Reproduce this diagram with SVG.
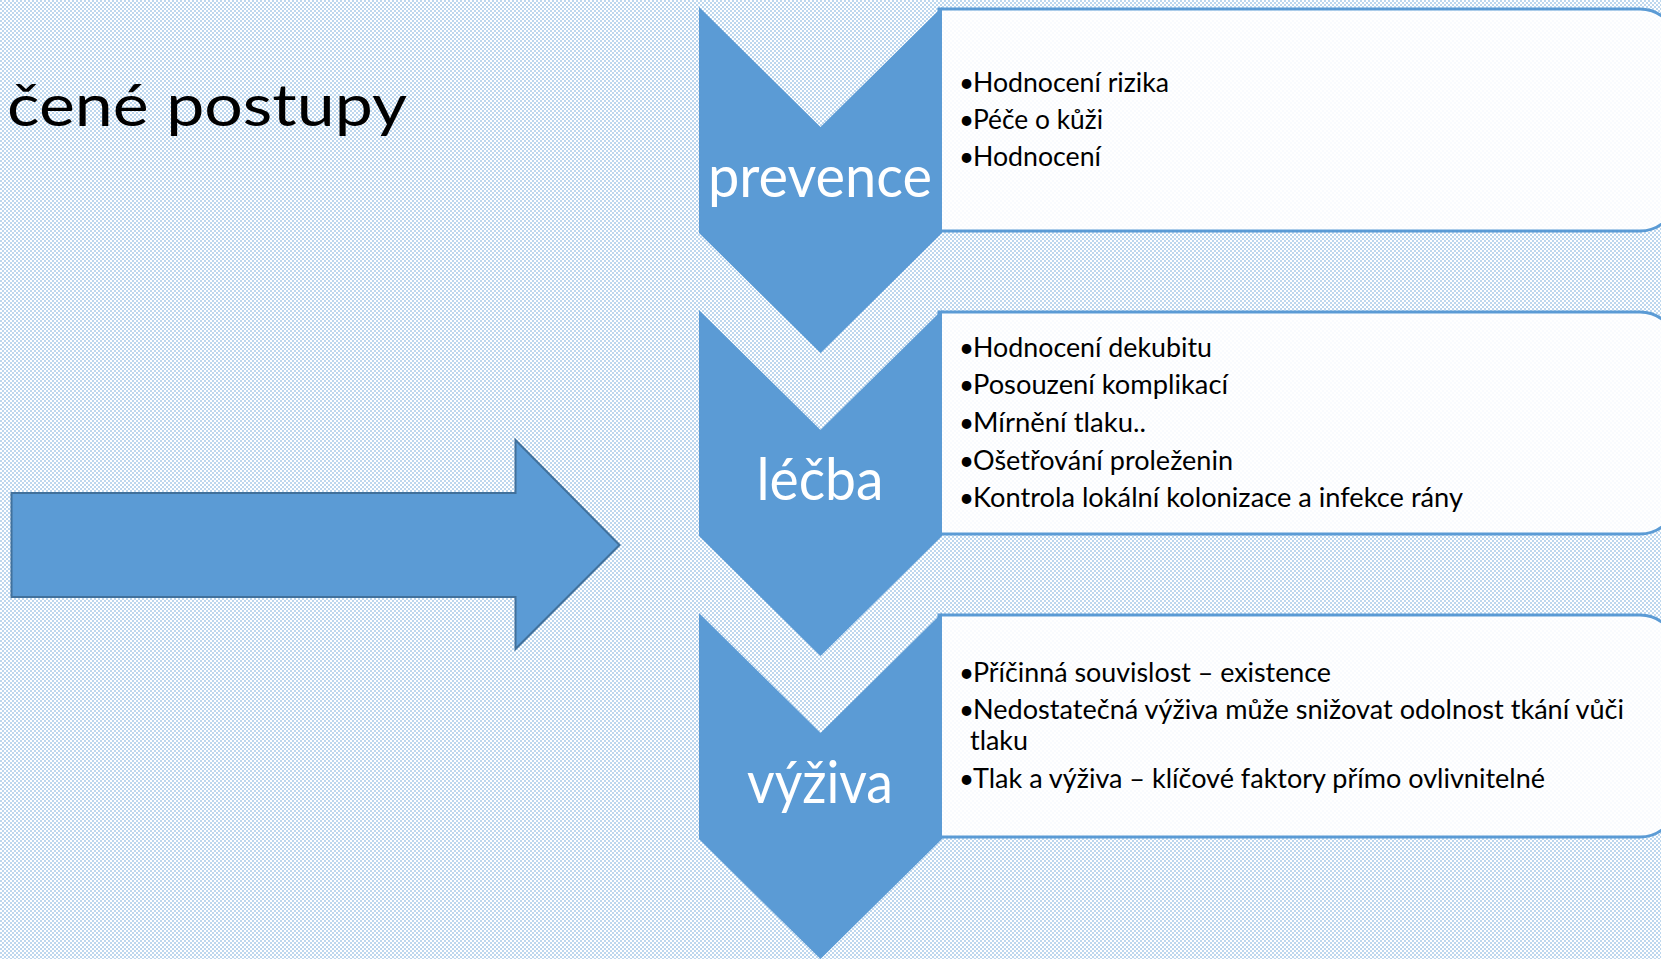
<svg xmlns="http://www.w3.org/2000/svg" width="1661" height="959" viewBox="0 0 1661 959">
  <defs>
    <pattern id="bg" width="4" height="4" patternUnits="userSpaceOnUse">
      <rect width="4" height="4" fill="#ffffff"/>
      <rect width="2" height="2" fill="#bdd7ee"/>
      <rect x="2" y="2" width="2" height="2" fill="#bdd7ee"/>
    </pattern>
  </defs>
  <style>
    .box { fill: #ffffff; fill-opacity: 0.9; stroke: #5b9bd5; stroke-width: 3; }
    .chev { fill: #5b9bd5; }
    .lbl { font-family: Lato, "Open Sans", sans-serif; font-size: 59px; fill: #ffffff; text-anchor: middle; }
    .item { font-family: Lato, "Open Sans", sans-serif; font-size: 26px; fill: #000000; }
    .title { font-family: Lato, "Open Sans", sans-serif; font-size: 59px; fill: #000000; }
  </style>
  <rect width="1661" height="959" fill="url(#bg)"/>

  <text class="title" x="7" y="126" textLength="400" lengthAdjust="spacingAndGlyphs">čené postupy</text>

  <g id="connectors">
    <polygon points="11.5,493 515.5,493 515.5,440 619.5,545 515.5,649 515.5,597 11.5,597" fill="#5b9bd5" stroke="#41719c" stroke-width="2" stroke-linejoin="miter"/>
  </g>

  <g id="prevence">
    <path class="box" d="M939,9 H1640 A37,37 0 0 1 1677,46 V194 A37,37 0 0 1 1640,231 H939 Z"/>
    <path class="chev" d="M699,7 L820.5,127 L942,7 L942,233 L820.5,353 L699,233 Z"/>
    <text class="lbl" x="820" y="197" textLength="224" lengthAdjust="spacingAndGlyphs">prevence</text>
    <text class="item" x="959" y="92">•</text><text class="item" x="973" y="92" textLength="196" lengthAdjust="spacingAndGlyphs">Hodnocení rizika</text>
    <text class="item" x="959" y="129">•</text><text class="item" x="973" y="129" textLength="130" lengthAdjust="spacingAndGlyphs">Péče o kůži</text>
    <text class="item" x="959" y="166">•</text><text class="item" x="973" y="166" textLength="128" lengthAdjust="spacingAndGlyphs">Hodnocení</text>
  </g>

  <g id="lecba">
    <path class="box" d="M939,312 H1640 A37,37 0 0 1 1677,349 V497 A37,37 0 0 1 1640,534 H939 Z"/>
    <path class="chev" d="M699,310 L820.5,430 L942,310 L942,536 L820.5,656 L699,536 Z"/>
    <text class="lbl" x="820" y="500" textLength="127" lengthAdjust="spacingAndGlyphs">léčba</text>
    <text class="item" x="959" y="357">•</text><text class="item" x="973" y="357" textLength="239" lengthAdjust="spacingAndGlyphs">Hodnocení dekubitu</text>
    <text class="item" x="959" y="394">•</text><text class="item" x="973" y="394" textLength="255" lengthAdjust="spacingAndGlyphs">Posouzení komplikací</text>
    <text class="item" x="959" y="432">•</text><text class="item" x="973" y="432" textLength="173" lengthAdjust="spacingAndGlyphs">Mírnění tlaku..</text>
    <text class="item" x="959" y="470">•</text><text class="item" x="973" y="470" textLength="260" lengthAdjust="spacingAndGlyphs">Ošetřování proleženin</text>
    <text class="item" x="959" y="507">•</text><text class="item" x="973" y="507" textLength="490" lengthAdjust="spacingAndGlyphs">Kontrola lokální kolonizace a infekce rány</text>
  </g>

  <g id="vyziva">
    <path class="box" d="M939,615 H1640 A37,37 0 0 1 1677,652 V800 A37,37 0 0 1 1640,837 H939 Z"/>
    <path class="chev" d="M699,613 L820.5,733 L942,613 L942,839 L820.5,959 L699,839 Z"/>
    <text class="lbl" x="820" y="803" textLength="146" lengthAdjust="spacingAndGlyphs">výživa</text>
    <text class="item" x="959" y="682">•</text><text class="item" x="973" y="682" textLength="358" lengthAdjust="spacingAndGlyphs">Příčinná souvislost – existence</text>
    <text class="item" x="959" y="719">•</text><text class="item" x="973" y="719" textLength="651" lengthAdjust="spacingAndGlyphs">Nedostatečná výživa může snižovat odolnost tkání vůči</text>
    <text class="item" x="970" y="750" textLength="58" lengthAdjust="spacingAndGlyphs">tlaku</text>
    <text class="item" x="959" y="788">•</text><text class="item" x="973" y="788" textLength="572" lengthAdjust="spacingAndGlyphs">Tlak a výživa – klíčové faktory přímo ovlivnitelné</text>
  </g>
</svg>
